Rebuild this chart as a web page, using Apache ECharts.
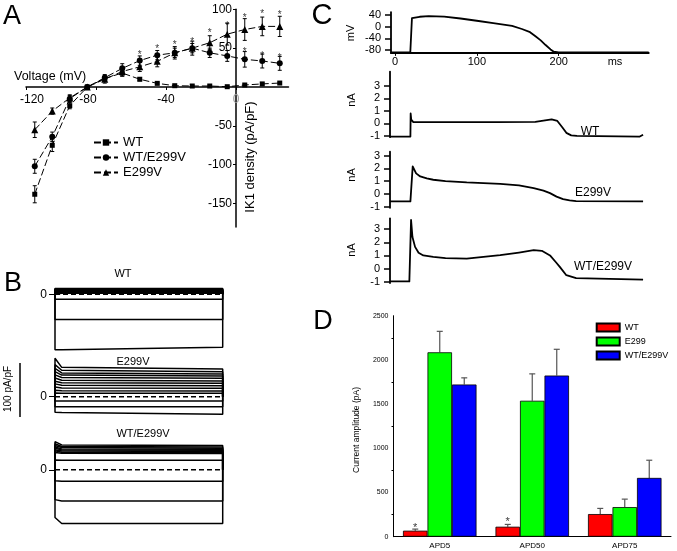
<!DOCTYPE html>
<html><head><meta charset="utf-8">
<script src="https://cdn.jsdelivr.net/npm/echarts@6/dist/echarts.min.js"></script>
<style>html,body{margin:0;padding:0;background:#fff}#c{width:677px;height:551px}</style>
</head><body><div id="c"></div>
<script>
// ---------- Panel A: IK1 density vs voltage ----------
const voltage = [-115,-105,-95,-85,-75,-65,-55,-45,-35,-25,-15,-5,5,15,25];
const ik1WT      = [-138,-75,-24,0,11,18,10,4.7,1.7,1.3,1.3,0.4,2.6,4,5.1];
const ik1WTE299V = [-102,-64,-15,0,12,24,34,41,44,50,44,40,35.6,33.5,30.5];
const ik1E299V   = [-55,-31,-14,0,10,20,26,33,44,50,57,68,74,78,78];
const errWT      = [11,8,4,2,3,4,2,1,1,1,1,1,1,1,1];
const errWTE299V = [9,6,4,2,4,6,6,6,6,6,6,7,10,9,9];
const errE299V   = [10,4,4,2,5,6,6,7,8,9,9,14,14,12,13];
const starA = [[-55,45],[-45,52],[-35,57],[-25,62],[-15,73],[-5,82],[5,92],[15,98],[25,96],[5,48],[15,44],[25,41]];
const aXTicks = [-120,-80,-40,0];
const aYTicks = [-150,-100,-50,50,100];

// ---------- Panel B: current traces (pA/pF); onset, early (t=4) and end levels ----------
const bWTInit  = [11,10,9,8,7,6,5,4,3,2,-9.5,-47,-104];
const bWTEarly = [11,10,9,8,7,6,5,4,3,2,-9.5,-47,-104];
const bWTEnd   = [11,10,9,8,7,6,5,4,3,2,-9.5,-47,-99];
const bE2Init  = [72,60,53,47,41,35,29,24,18,12,7,-8,-19,-29];
const bE2Early = [55,49.5,44.5,40.5,36,30.8,26.2,21.5,16.3,11,6.5,-8,-19,-29.5];
const bE2End   = [52,47,42.5,38.75,34.4,29.4,25,20.6,15.6,10.6,6.25,-8,-19,-33];
const bHetInit  = [52,48,45,42,40,37,35,32,18,-20,-55,-88];
const bHetEarly = [46,43,41,38.5,36.5,34.5,32.5,30.5,17.5,-21,-57.6,-99];
const bHetEnd   = [45,42,40,38,36,34,32,30,17.5,-21,-57.6,-99];
const bTime = [0,0,4,100,100];

// ---------- Panel C: action potential clamp ----------
const apTime = [-5,18.6,20.6,30,41,60,80,102,120,143,155,165,172,178,184,190,194,200,310];
const apVolt = [-88,-88,29,34,36,34.5,28,19.5,12,2.4,-8,-19,-34,-47,-63,-78,-86,-88,-88];
const cWTTime = [-8,17,17.3,18,20.6,60,120,170,180,190,197,203,208,214,221,298,302];
const cWTCur  = [-1.05,-1.05,0.8,0.3,0.1,0.1,0.1,0.12,0.22,0.33,0.2,-0.3,-0.75,-0.95,-1.0,-1.05,-0.9];
const cE2Time = [-8,17,19.8,24,29,37,45,60,86,127,150,168,180,188,196,204,212,220,302];
const cE2Cur  = [-0.6,-0.6,2.14,1.6,1.36,1.2,1.1,1.0,0.89,0.78,0.66,0.45,0.25,0.05,-0.22,-0.42,-0.52,-0.57,-0.6];
const cHetTime = [-8,15.7,17.8,19.5,22.7,27,32.8,45,60,86,127,150,168,178,188,195,200,208,220,302];
const cHetCur  = [-0.97,-0.97,3.69,2.4,1.65,1.2,1.0,0.89,0.8,0.76,1.02,1.22,1.4,1.35,1.0,0.5,0.13,-0.5,-0.72,-0.84];

// ---------- Panel D: current amplitude ----------
const dCats = ['APD5','APD50','APD75'];
const dWT = [68,113,256],   dWTErr = [18,26,64];
const dE2 = [2086,1538,335], dE2Err = [237,304,90];
const dHet = [1722,1823,665], dHetErr = [75,297,200];
const dStars = [132,197,null];

const FONT = 'Liberation Sans, Arial, Helvetica, sans-serif';
const chart = echarts.init(document.getElementById('c'), null, {renderer:'canvas', width:677, height:551});

function zip(a,b){ return a.map((v,i)=>[v,b[i]]); }
function errData(x,y,e){ return x.map((v,i)=>[v,y[i],e[i]]); }
function errRenderA(params, api){
  const x=api.value(0), y=api.value(1), e=api.value(2);
  const lo=api.coord([x,y-e]), hi=api.coord([x,y+e]);
  const st={stroke:'#000',lineWidth:1};
  return {type:'group',children:[
    {type:'line',shape:{x1:lo[0],y1:lo[1],x2:hi[0],y2:hi[1]},style:st},
    {type:'line',shape:{x1:hi[0]-2,y1:hi[1],x2:hi[0]+2,y2:hi[1]},style:st},
    {type:'line',shape:{x1:lo[0]-2,y1:lo[1],x2:lo[0]+2,y2:lo[1]},style:st}
  ]};
}
function errRenderD(offset){
  return function(params, api){
    const c=api.value(0), y=api.value(1), e=api.value(2);
    const b=api.coord([c,y]), t=api.coord([c,y+e]);
    const x=b[0]+offset;
    const st={stroke:'#555',lineWidth:1.2};
    return {type:'group',children:[
      {type:'line',shape:{x1:x,y1:b[1],x2:x,y2:t[1]},style:st},
      {type:'line',shape:{x1:x-3,y1:t[1],x2:x+3,y2:t[1]},style:st}
    ]};
  };
}

const grids = [
  {left:26, top:9.3, width:262.5, height:217.6},          // 0 A
  {left:55, top:286.3, width:167.7, height:66.7},          // 1 B WT
  {left:55, top:356.7, width:167.7, height:61.3},          // 2 B E299V
  {left:55, top:440, width:167.7, height:84},              // 3 B WT/E299V
  {left:391, top:12.1, width:257.7, height:40.8},          // 4 C AP
  {left:390, top:71.6, width:259.6, height:65.6},          // 5 C WT
  {left:390, top:151.7, width:259.6, height:56.1},         // 6 C E299V
  {left:390, top:218.3, width:259.6, height:64.8},         // 7 C WT/E299V
  {left:393.5, top:315.7, width:277.5, height:221}         // 8 D
].map(g=>Object.assign({outerBoundsMode:'none', containLabel:false}, g));

const hidden = {show:false};
// Panel A axes cross at (0,0): x=0 -> 236px, y=0 -> 87px
const A_X_OFFSET = -(9.3 + 217.6 - 87);
const A_Y_OFFSET = -(236 - 26);
const xAxes = [
  {gridIndex:0,type:'value',min:-120,max:30,position:'bottom',offset:A_X_OFFSET,
   axisLine:{onZero:false,lineStyle:{color:'#000',width:1.5}},
   axisTick:{customValues:aXTicks,length:3,lineStyle:{color:'#000'}},splitLine:hidden,
   axisLabel:{customValues:aXTicks,fontSize:12,fontFamily:FONT,margin:7,
     formatter:(v)=>{const n=Number(v); return n===-120?'{r|'+v+'}':n===-80?'{l|'+v+'}':n===0?'{g|0}':String(v);},
     rich:{r:{fontSize:12,fontFamily:FONT,color:'#000',padding:[0,0,0,12]},
           l:{fontSize:12,fontFamily:FONT,color:'#000',padding:[0,16,0,0]},
           g:{fontSize:12,fontFamily:FONT,color:'#999'}},
     color:'#000'}},
  {gridIndex:1,type:'value',min:0,max:100,show:false},
  {gridIndex:2,type:'value',min:0,max:100,show:false},
  {gridIndex:3,type:'value',min:0,max:100,show:false},
  {gridIndex:4,type:'value',min:-5,max:310,axisLine:{onZero:false,lineStyle:{color:'#000',width:2}},
   axisTick:{customValues:[0,100,200],length:3,lineStyle:{color:'#000'}},splitLine:hidden,
   axisLabel:{customValues:[0,100,200],fontSize:11,fontFamily:FONT,color:'#000',margin:4}},
  {gridIndex:5,type:'value',min:-8,max:310,show:false},
  {gridIndex:6,type:'value',min:-8,max:310,show:false},
  {gridIndex:7,type:'value',min:-8,max:310,show:false},
  {gridIndex:8,type:'category',data:dCats,axisLine:{lineStyle:{color:'#000',width:1}},axisTick:{show:false},
   axisLabel:{fontSize:8,fontFamily:FONT,color:'#000',margin:5}}
];
function cY(grid,min,max,ticks){
  return {gridIndex:grid,type:'value',min:min,max:max,
    axisLine:{show:true,onZero:false,lineStyle:{color:'#000',width:1.8}},
    axisTick:{customValues:ticks,length:6,lineStyle:{color:'#000',width:1.5}},splitLine:hidden,
    axisLabel:{customValues:ticks,fontSize:11,fontFamily:FONT,color:'#000',margin:10}};
}
function bY(grid,min,max){
  return {gridIndex:grid,type:'value',min:min,max:max,axisLine:{show:false},
    axisTick:{show:true,customValues:[0],length:6,lineStyle:{color:'#000'}},splitLine:hidden,
    axisLabel:{customValues:[0],fontSize:12,fontFamily:FONT,color:'#000',margin:8}};
}
const yAxes = [
  {gridIndex:0,type:'value',min:-180,max:100,position:'left',offset:A_Y_OFFSET,
   axisLine:{onZero:false,lineStyle:{color:'#000',width:1.5}},
   axisTick:{customValues:aYTicks,length:3,lineStyle:{color:'#000'}},splitLine:hidden,
   axisLabel:{customValues:aYTicks,fontSize:12,fontFamily:FONT,color:'#000',margin:4}},
  bY(1,-110,15), bY(2,-40,75), bY(3,-100,55),
  cY(4,-90,50,[-80,-40,0,40]),
  cY(5,-1.1,4.15,[-1,0,1,2,3]),
  cY(6,-1.1,3.3,[-1,0,1,2,3]),
  cY(7,-1.1,3.82,[-1,0,1,2,3]),
  {gridIndex:8,type:'value',min:0,max:2500,interval:500,axisLine:{show:true,lineStyle:{color:'#000',width:1}},
   axisTick:{length:3,lineStyle:{color:'#000'}},minorTick:{show:true,splitNumber:2,length:2,lineStyle:{color:'#000'}},
   splitLine:hidden,axisLabel:{fontSize:7,fontFamily:FONT,color:'#000',margin:5,formatter:(v)=>String(v)}}
];

const series = [];
// Panel A lines
const aDash = [7,3];
[['WT',ik1WT,errWT,'rect',5],['WT/E299V',ik1WTE299V,errWTE299V,'circle',6],['E299V',ik1E299V,errE299V,'triangle',7]].forEach(s=>{
  series.push({name:s[0],type:'line',xAxisIndex:0,yAxisIndex:0,data:zip(voltage,s[1]),symbol:s[3],symbolSize:s[4],
    showSymbol:true,lineStyle:{color:'#000',width:1,type:aDash},itemStyle:{color:'#000'},z:3});
  series.push({type:'custom',xAxisIndex:0,yAxisIndex:0,data:errData(voltage,s[1],s[2]),renderItem:errRenderA,
    encode:{x:0,y:1},silent:true,z:2});
});
series.push({type:'scatter',xAxisIndex:0,yAxisIndex:0,data:starA,symbolSize:0,silent:true,
  label:{show:true,formatter:'*',position:'inside',fontSize:10,fontFamily:FONT,color:'#000',offset:[0,3]}});

// Panel B traces
function bPanel(idx, init, early, end){
  init.forEach((v,i)=>{
    const vals=[0,v,early[i],end[i],0];
    series.push({type:'line',xAxisIndex:idx,yAxisIndex:idx,data:zip(bTime,vals),symbol:'none',clip:false,
      lineStyle:{color:'#000',width:1.5},silent:true});
  });
  series.push({type:'line',xAxisIndex:idx,yAxisIndex:idx,data:[[0,0],[100,0]],symbol:'none',clip:false,
    lineStyle:{color:'#000',width:1.4,type:[5,3]},silent:true});
}
bPanel(1,bWTInit,bWTEarly,bWTEnd);
bPanel(2,bE2Init,bE2Early,bE2End);
bPanel(3,bHetInit,bHetEarly,bHetEnd);

// Panel C traces
[[4,apTime,apVolt],[5,cWTTime,cWTCur],[6,cE2Time,cE2Cur],[7,cHetTime,cHetCur]].forEach(s=>{
  series.push({type:'line',xAxisIndex:s[0],yAxisIndex:s[0],data:zip(s[1],s[2]),symbol:'none',clip:false,
    lineStyle:{color:'#000',width:1.8,join:'round'},silent:true});
});

// Panel D bars (series names prefixed so they do not clash with panel A legend)
const dBW = 24.5;
[['D:WT',dWT,dWTErr,'#ff0000',-dBW],['D:E299',dE2,dE2Err,'#00ff00',0],['D:WT/E299V',dHet,dHetErr,'#0000ff',dBW]].forEach(s=>{
  series.push({name:s[0],type:'bar',xAxisIndex:8,yAxisIndex:8,data:s[1],barWidth:dBW,barGap:'0%',
    itemStyle:{color:s[3],borderColor:'#000',borderWidth:0.8}});
  series.push({type:'custom',xAxisIndex:8,yAxisIndex:8,data:s[1].map((v,i)=>[i,v,s[2][i]]),
    renderItem:errRenderD(s[4]),encode:{x:0,y:1},silent:true,z:1});
});
series.push({type:'scatter',xAxisIndex:8,yAxisIndex:8,data:dStars,symbolSize:0,silent:true,
  label:{show:true,formatter:'*',position:'inside',fontSize:11,fontFamily:FONT,color:'#000',offset:[-dBW,3]}});

function txt(text,x,y,size,rot,align){
  return {type:'text',x:x,y:y,rotation:rot||0,silent:true,
    style:{text:text,fontSize:size,fontFamily:FONT,fill:'#000',align:align||'center',verticalAlign:'middle'}};
}
const graphic = [
  txt('A',12,17,27), txt('B',13,284,27), txt('C',322,16,29), txt('D',323,322,27),
  txt('Voltage (mV)',14,77,12.5,0,'left'),
  txt('IK1 density (pA/pF)',250,157,13,Math.PI/2),
  txt('WT',123,274,11), txt('E299V',133,362,11), txt('WT/E299V',143,434,11),
  txt('100 pA/pF',8,389,10,Math.PI/2),
  {type:'line',silent:true,shape:{x1:20,y1:363,x2:20,y2:417},style:{stroke:'#000',lineWidth:1.5}},
  txt('mV',351,33,11,Math.PI/2), txt('ms',615,62,11),
  txt('nA',352,100,11,Math.PI/2), txt('nA',352,175,11,Math.PI/2), txt('nA',352,250,11,Math.PI/2),
  txt('WT',590,132,12), txt('E299V',593,193,12), txt('WT/E299V',603,267,12),
  txt('Current amplitude (pA)',357,430,8.5,Math.PI/2)
];

chart.setOption({
  animation:false,
  backgroundColor:'#fff',
  textStyle:{fontFamily:FONT},
  grid:grids, xAxis:xAxes, yAxis:yAxes, series:series, graphic:graphic,
  legend:[
    {data:['WT','WT/E299V','E299V'],orient:'vertical',left:93,top:136,padding:0,itemGap:2,itemWidth:24,itemHeight:8,
     textStyle:{fontSize:13,fontFamily:FONT,color:'#000'},selectedMode:false},
    {data:['D:WT','D:E299','D:WT/E299V'],orient:'vertical',left:595.7,top:322.5,padding:0,itemGap:4,itemWidth:23,itemHeight:8,
     formatter:(n)=>n.slice(2),
     textStyle:{fontSize:9,fontFamily:FONT,color:'#000'},selectedMode:false,icon:'rect'}
  ]
});
</script></body></html>
